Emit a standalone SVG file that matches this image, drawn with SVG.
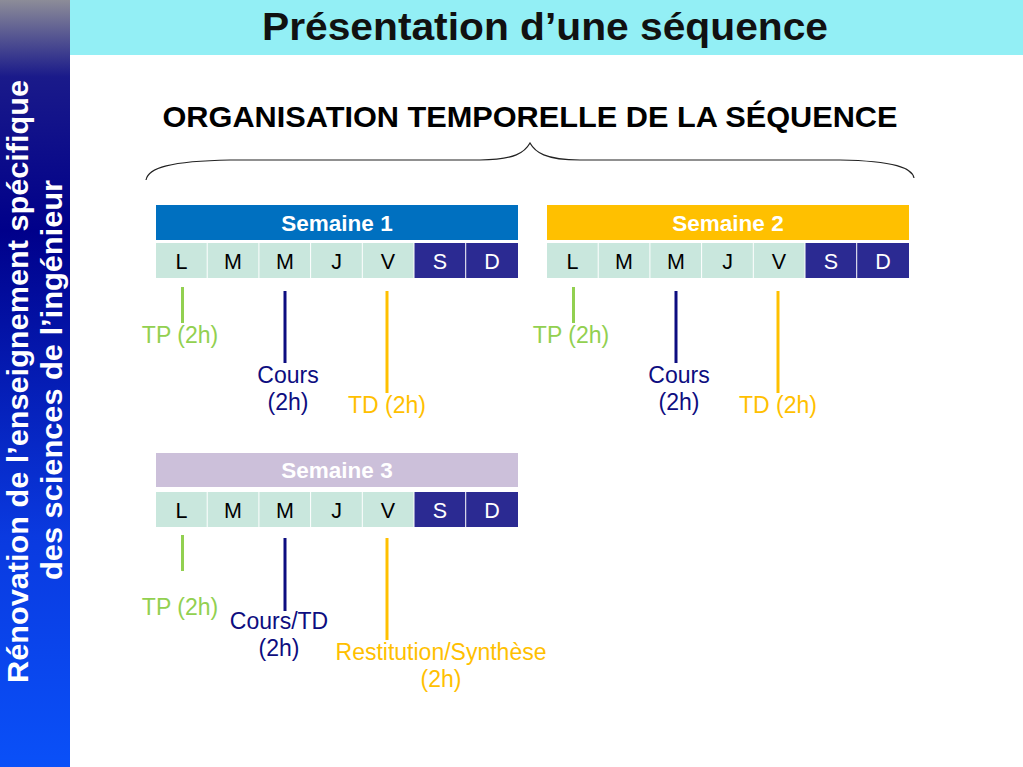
<svg xmlns="http://www.w3.org/2000/svg" width="1023" height="767" viewBox="0 0 1023 767">
<defs>
<linearGradient id="side" x1="0" y1="0" x2="0" y2="1">
<stop offset="0" stop-color="#8c8c98"/>
<stop offset="0.1" stop-color="#1a1a8a"/>
<stop offset="0.3" stop-color="#00008a"/>
<stop offset="0.7" stop-color="#0a3ae0"/>
<stop offset="1" stop-color="#0a50f8"/>
</linearGradient>
<style>
.t{font-family:"Liberation Sans",Arial,sans-serif}
.hd{font-family:"Liberation Sans",Arial,sans-serif;font-weight:bold;font-size:22.5px;fill:#fff;text-anchor:middle}
.day{fill:#c9e7dd}
.we{fill:#2b2a92}
.dl{font-family:"Liberation Sans",Arial,sans-serif;font-size:21.5px;text-anchor:middle;fill:#000}
.dlw{font-family:"Liberation Sans",Arial,sans-serif;font-size:21.5px;text-anchor:middle;fill:#fff}
.lab{font-family:"Liberation Sans",Arial,sans-serif;font-size:23px;text-anchor:middle}
.g{fill:#92d050}
.n{fill:#0d0d80}
.y{fill:#ffc000}
.lg{stroke:#92d050;stroke-width:3}
.ln{stroke:#0d0d80;stroke-width:3}
.ly{stroke:#ffc000;stroke-width:3}
</style>
<g id="days">
<rect class="day" x="0" y="0" width="50.7" height="35"/>
<rect class="day" x="51.7" y="0" width="50.7" height="35"/>
<rect class="day" x="103.4" y="0" width="50.7" height="35"/>
<rect class="day" x="155.1" y="0" width="50.7" height="35"/>
<rect class="day" x="206.8" y="0" width="50.7" height="35"/>
<rect class="we" x="258.5" y="0" width="50.7" height="35"/>
<rect class="we" x="310.2" y="0" width="51.8" height="35"/>
<text class="dl" x="25.5" y="26">L</text>
<text class="dl" x="77" y="26">M</text>
<text class="dl" x="129" y="26">M</text>
<text class="dl" x="180.5" y="26">J</text>
<text class="dl" x="232" y="26">V</text>
<text class="dlw" x="284" y="26">S</text>
<text class="dlw" x="336" y="26">D</text>
</g>
</defs>
<rect width="1023" height="767" fill="#fff"/>
<g id="titlebar">
<rect x="70" y="0" width="953" height="55" fill="#93eff5"/>
<text class="t" x="545" y="40" font-size="39" font-weight="bold" fill="#111" text-anchor="middle" textLength="566" lengthAdjust="spacingAndGlyphs">Présentation d’une séquence</text>
</g>
<g id="sidebar">
<rect x="0" y="0" width="70" height="767" fill="url(#side)"/>
<text class="t" transform="translate(28,381.5) rotate(-90)" font-size="30" font-weight="bold" fill="#fff" text-anchor="middle" textLength="603" lengthAdjust="spacingAndGlyphs">Rénovation de l’enseignement spécifique</text>
<text class="t" transform="translate(62,380) rotate(-90)" font-size="30" font-weight="bold" fill="#fff" text-anchor="middle" textLength="400" lengthAdjust="spacingAndGlyphs">des sciences de l’ingénieur</text>
</g>
<g id="subtitle">
<text class="t" x="530" y="127" font-size="30" font-weight="bold" fill="#000" text-anchor="middle" textLength="735" lengthAdjust="spacingAndGlyphs">ORGANISATION TEMPORELLE DE LA SÉQUENCE</text>
<path d="M146,180 C148,168 170,161 230,160 L480,160 C515,160 525,152 530,143 C535,152 545,160 580,160 L840,160 C895,161 912,168 914,178" fill="none" stroke="#222" stroke-width="1.2"/>
</g>
<g id="semaine1">
<rect x="156" y="205" width="362" height="35" fill="#0070c0"/>
<text class="hd" x="337" y="231">Semaine 1</text>
<use href="#days" x="156" y="243"/>
</g>
<g id="semaine2">
<rect x="547" y="205" width="362" height="35" fill="#ffc000"/>
<text class="hd" x="728" y="231">Semaine 2</text>
<use href="#days" x="547" y="243"/>
</g>
<g id="semaine3">
<rect x="156" y="453" width="362" height="34" fill="#ccc0da"/>
<text class="hd" x="337" y="478">Semaine 3</text>
<use href="#days" x="156" y="492"/>
</g>
<g id="connectors">
<line class="lg" x1="182.5" y1="287" x2="182.5" y2="323"/>
<line class="ln" x1="285" y1="291" x2="285" y2="363"/>
<line class="ly" x1="387" y1="291" x2="387" y2="393"/>
<line class="lg" x1="573.5" y1="287" x2="573.5" y2="323"/>
<line class="ln" x1="676" y1="291" x2="676" y2="363"/>
<line class="ly" x1="778" y1="291" x2="778" y2="393"/>
<line class="lg" x1="182.5" y1="535" x2="182.5" y2="571"/>
<line class="ln" x1="285" y1="538" x2="285" y2="611"/>
<line class="ly" x1="387" y1="538" x2="387" y2="640"/>
</g>
<g id="labels1">
<text class="lab g" x="180" y="343">TP (2h)</text>
<text class="lab n" x="288" y="383">Cours</text>
<text class="lab n" x="288" y="410">(2h)</text>
<text class="lab y" x="387" y="413">TD (2h)</text>
</g>
<g id="labels2">
<text class="lab g" x="571" y="343">TP (2h)</text>
<text class="lab n" x="679" y="383">Cours</text>
<text class="lab n" x="679" y="410">(2h)</text>
<text class="lab y" x="778" y="413">TD (2h)</text>
</g>
<g id="labels3">
<text class="lab g" x="180" y="615">TP (2h)</text>
<text class="lab n" x="279" y="629">Cours/TD</text>
<text class="lab n" x="279" y="656">(2h)</text>
<text class="lab y" x="441" y="660">Restitution/Synthèse</text>
<text class="lab y" x="441" y="687">(2h)</text>
</g>
</svg>
